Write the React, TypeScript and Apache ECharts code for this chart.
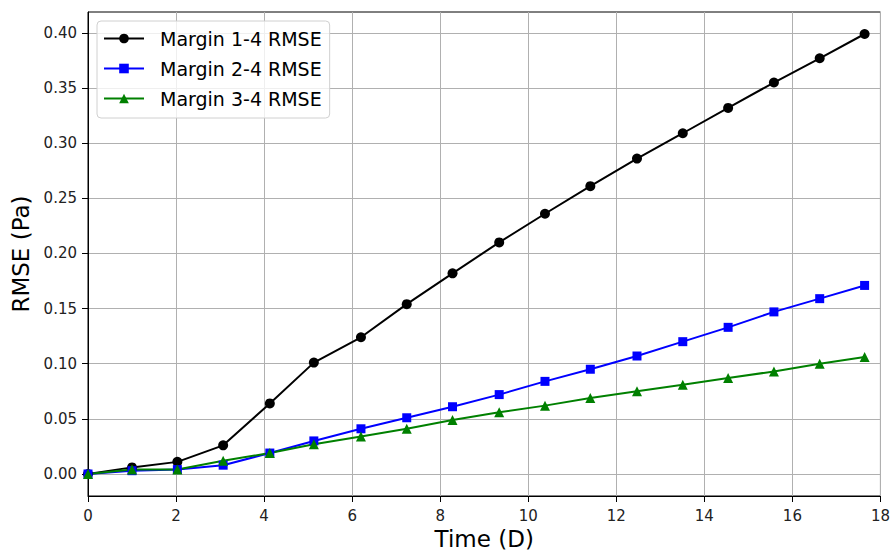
import React, { useEffect, useRef } from "react";
import * as echarts from "echarts";

const timeDays = [0, 1.0, 2.03, 3.07, 4.13, 5.13, 6.2, 7.24, 8.28, 9.34, 10.38, 11.41, 12.47, 13.51, 14.54, 15.58, 16.62, 17.64];
const margin14 = [0, 0.006, 0.011, 0.026, 0.064, 0.101, 0.124, 0.154, 0.182, 0.21, 0.236, 0.261, 0.286, 0.309, 0.332, 0.355, 0.377, 0.399];
const margin24 = [0, 0.003, 0.004, 0.008, 0.019, 0.03, 0.041, 0.051, 0.061, 0.072, 0.084, 0.095, 0.107, 0.12, 0.133, 0.147, 0.159, 0.171];
const margin34 = [0, 0.004, 0.004, 0.012, 0.019, 0.027, 0.034, 0.041, 0.049, 0.056, 0.062, 0.069, 0.075, 0.081, 0.087, 0.093, 0.1, 0.106];
const seriesNames = ["Margin 1-4 RMSE", "Margin 2-4 RMSE", "Margin 3-4 RMSE"];
const yTicks = [0, 0.05, 0.1, 0.15, 0.2, 0.25, 0.3, 0.35, 0.4];

const FONT = "DejaVu Sans";

export default function App() {
  const ref = useRef<HTMLDivElement>(null);
  useEffect(() => {
    if (!ref.current) return;
    const chart = echarts.init(ref.current, null, { renderer: "svg" });
    const pair = (vals: number[]) => timeDays.map((t, i) => [t, vals[i]]);
    const mk = (name: string, vals: number[], color: string, symbol: string, size: number) => ({
      type: "line",
      name,
      data: pair(vals),
      symbol,
      symbolSize: size,
      showSymbol: true,
      lineStyle: { color, width: 2 },
      itemStyle: { color },
      emphasis: { disabled: true },
    });
    const axisLine = { show: true, onZero: false, lineStyle: { color: "#000", width: 1 } };
    const splitLine = { show: true, lineStyle: { color: "#b0b0b0", width: 1 } };
    chart.setOption({
      animation: false,
      textStyle: { fontFamily: FONT },
      grid: { left: 88, right: 11, top: 12, bottom: 60, show: true, borderColor: "#000", borderWidth: 1, backgroundColor: "transparent" },
      legend: {
        left: 97,
        top: 21,
        orient: "vertical",
        data: seriesNames,
        itemWidth: 40,
        itemHeight: 12,
        itemGap: 11,
        padding: [8, 8, 10, 6],
        backgroundColor: "rgba(255,255,255,0.8)",
        borderColor: "#d0d0d0",
        borderWidth: 1,
        borderRadius: 4,
        textStyle: { fontFamily: FONT, fontSize: 19, color: "#000", padding: [0, 0, 0, 11] },
      },
      xAxis: {
        type: "value",
        min: 0,
        max: 18,
        interval: 2,
        name: "Time (D)",
        nameLocation: "middle",
        nameGap: 31,
        nameTextStyle: { fontFamily: FONT, fontSize: 23, color: "#000" },
        axisLine,
        axisTick: { show: true, length: 6, lineStyle: { color: "#000" } },
        axisLabel: { fontFamily: FONT, fontSize: 15, color: "#222", margin: 12 },
        splitLine,
      },
      yAxis: {
        type: "value",
        min: -0.01995,
        max: 0.41895,
        name: "RMSE (Pa)",
        nameLocation: "middle",
        nameGap: 54,
        nameTextStyle: { fontFamily: FONT, fontSize: 23, color: "#000" },
        axisLine,
        axisTick: { show: true, length: 6, lineStyle: { color: "#000" }, customValues: yTicks },
        axisLabel: { fontFamily: FONT, fontSize: 15, color: "#222", margin: 11, customValues: yTicks, formatter: (v: number) => v.toFixed(2) },
        splitLine,
      },
      series: [
        mk(seriesNames[0], margin14, "#000000", "circle", 10),
        mk(seriesNames[1], margin24, "#0000ff", "rect", 9),
        mk(seriesNames[2], margin34, "#008000", "triangle", 10),
      ],
    });
    return () => chart.dispose();
  }, []);
  return <div ref={ref} style={{ position: "absolute", left: 0, top: 0, width: 893, height: 556 }} />;
}
